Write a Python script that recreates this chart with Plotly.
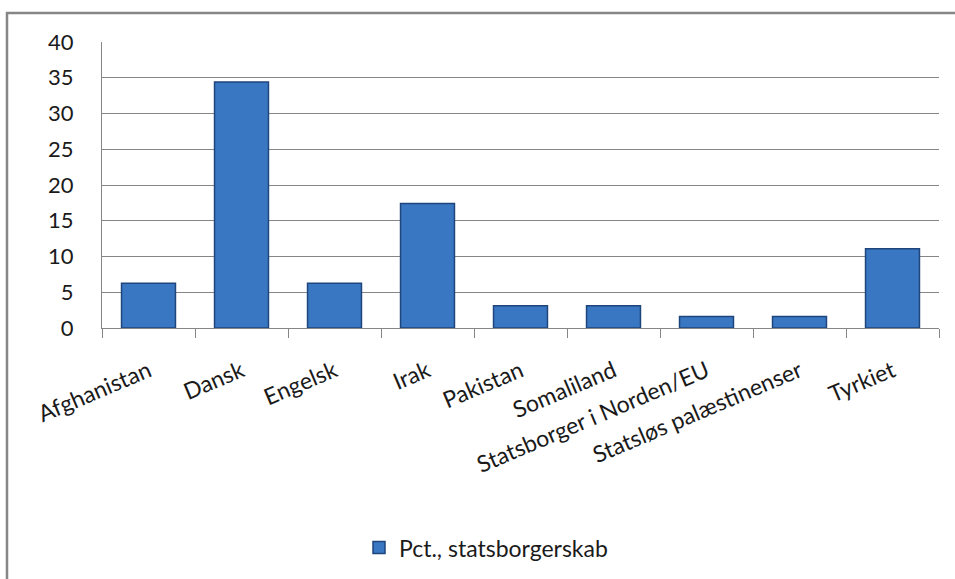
import plotly.graph_objects as go

categories = ["Afghanistan", "Dansk", "Engelsk", "Irak", "Pakistan", "Somaliland",
              "Statsborger i Norden/EU", "Statsløs palæstinenser", "Tyrkiet"]
values = [6.25, 34.4, 6.25, 17.4, 3.1, 3.1, 1.6, 1.6, 11.1]
series_name = "Pct., statsborgerskab"
y_ticks = [0, 5, 10, 15, 20, 25, 30, 35, 40]

W, H = 955, 579
# plot area in page pixels
PL, PR, PT, PB = 102, 939, 41.5, 328
pw, ph = PR - PL, PB - PT


def px_x(x):
    return (x - PL) / pw


def px_y(y):
    return (PB - y) / ph


fig = go.Figure()
fig.add_trace(go.Bar(
    x=categories, y=values, name=series_name,
    marker=dict(color="#3A77C2", line=dict(color="#1E467C", width=1.5)),
))

font_family = "Lato, 'Open Sans', sans-serif"
fig.update_layout(
    width=W, height=H,
    margin=dict(l=PL, r=W - PR, t=PT, b=H - PB, autoexpand=False),
    paper_bgcolor="white", plot_bgcolor="white",
    bargap=0.42,
    font=dict(family=font_family, size=22, color="#1a1a1a"),
    showlegend=True,
    legend=dict(orientation="h", x=px_x(486), xanchor="center",
                y=px_y(548), yanchor="middle",
                font=dict(size=23), itemwidth=30),
    xaxis=dict(showgrid=False, showline=True, linecolor="#868686", linewidth=1,
               ticks="outside", ticklen=9, tickcolor="#868686",
               tickson="boundaries", tickangle=-23, automargin=False,
               ticklabelstandoff=20,
               tickfont=dict(size=23)),
    yaxis=dict(range=[0, 40], tickvals=y_ticks, showgrid=True,
               gridcolor="#868686", gridwidth=1, showline=True,
               linecolor="#868686", linewidth=1, ticks="", zeroline=False,
               automargin=False,
               ticklabelstandoff=23, tickfont=dict(size=22)),
    shapes=[dict(type="rect", xref="paper", yref="paper",
                 x0=px_x(7), x1=px_x(W + 10),
                 y0=px_y(H + 10), y1=px_y(12.5),
                 line=dict(color="#868686", width=2.5), layer="below")],
)

fig.write_html("out.html", config={"displayModeBar": False},
               post_script="document.body.style.margin='0px';")
